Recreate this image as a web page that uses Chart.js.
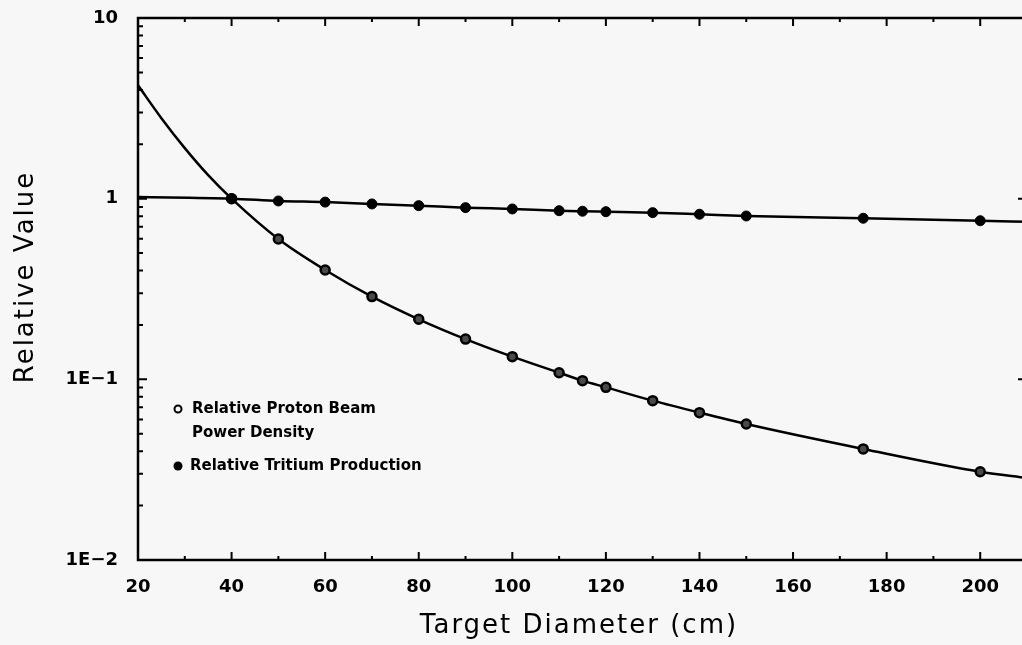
<!DOCTYPE html>
<html>
<head>
<meta charset="utf-8">
<title>Relative Value vs Target Diameter</title>
<script src="https://cdn.jsdelivr.net/npm/chart.js@4.4.1/dist/chart.umd.min.js"></script>
<style>
  html, body { margin: 0; padding: 0; background: #f7f7f7; overflow: hidden; }
  #wrap { position: absolute; left: 0; top: 0; width: 1040px; height: 645px; }
</style>
</head>
<body>
<div id="wrap"><canvas id="chart"></canvas></div>
<script>
// measured points (target diameter in cm)
const diameters = [40, 50, 60, 70, 80, 90, 100, 110, 115, 120, 130, 140, 150, 175, 200];
const tritium = [1.0, 0.971, 0.957, 0.935, 0.915, 0.892, 0.877, 0.858, 0.852, 0.847, 0.837, 0.820, 0.802, 0.779, 0.755];
const powerDensity = [1.0, 0.598, 0.403, 0.287, 0.215, 0.167, 0.1335, 0.1088, 0.0983, 0.0903, 0.0762, 0.0654, 0.0566, 0.0412, 0.0308];

// fitted curves run past the measured points (no markers there)
const tritiumLeadX = [20];
const tritiumLead = [1.02];
const tritiumTailX = [210];
const tritiumTail = [0.745];
const powerLeadX = [20, 25, 30, 35];
const powerLead = [4.24, 2.79, 1.905, 1.35];
const powerTailX = [210];
const powerTail = [0.0284];

const xTicks = [20, 40, 60, 80, 100, 120, 140, 160, 180, 200];
const yTicks = [0.01, 0.1, 1, 10];
const yTickLabels = ['1E\u22122', '1E\u22121', '1', '10'];
const xMin = 20, xMax = 210;

const xTitle = 'Target Diameter (cm)';
const yTitle = 'Relative Value';

const tickFont = { family: '"DejaVu Sans", sans-serif', size: 18, weight: 'bold' };

function buildSeries(leadX, lead, xs, ys, tailX, tail, r) {
  const data = [], radii = [];
  leadX.forEach((x, i) => { data.push({ x, y: lead[i] }); radii.push(0); });
  xs.forEach((x, i) => { data.push({ x, y: ys[i] }); radii.push(r); });
  tailX.forEach((x, i) => { data.push({ x, y: tail[i] }); radii.push(0); });
  return { data, radii };
}

const tri = buildSeries(tritiumLeadX, tritiumLead, diameters, tritium, tritiumTailX, tritiumTail, 5);
const pow = buildSeries(powerLeadX, powerLead, diameters, powerDensity, powerTailX, powerTail, 4.5);

// box frame with inward tick marks, axis titles and the in-plot key
const frameTicks = {
  id: 'frameTicks',
  afterDatasetsDraw(chart) {
    const { ctx, chartArea: a, scales: { x, y } } = chart;
    ctx.save();
    ctx.strokeStyle = '#000';
    ctx.lineWidth = 2.5;
    ctx.strokeRect(a.left, a.top, a.right - a.left, a.bottom - a.top);

    ctx.lineWidth = 2;
    ctx.beginPath();
    for (let v = xMin + 10; v < xMax; v += 10) {
      const px = x.getPixelForValue(v);
      const len = v % 20 === 0 ? 8 : 4;
      ctx.moveTo(px, a.bottom); ctx.lineTo(px, a.bottom - len);
      ctx.moveTo(px, a.top); ctx.lineTo(px, a.top + len);
    }
    for (let d = -2; d <= 0; d++) {
      for (let m = 1; m <= 9; m++) {
        const v = m * Math.pow(10, d);
        const py = y.getPixelForValue(v);
        if (py >= a.bottom - 1) continue;
        const len = m === 1 ? 9 : 5;
        ctx.moveTo(a.left, py); ctx.lineTo(a.left + len, py);
        ctx.moveTo(a.right, py); ctx.lineTo(a.right - len, py);
      }
    }
    ctx.stroke();

    // axis titles
    ctx.fillStyle = '#000';
    ctx.font = '26px "DejaVu Sans", sans-serif';
    ctx.letterSpacing = '2px';
    ctx.textAlign = 'center';
    ctx.textBaseline = 'alphabetic';
    ctx.fillText(xTitle, 579, 633);
    ctx.save();
    ctx.translate(33, 277);
    ctx.rotate(-Math.PI / 2);
    ctx.fillText(yTitle, 0, 0);
    ctx.restore();
    ctx.letterSpacing = '0px';

    // key
    const kx = a.left + 40;
    ctx.font = 'bold 15px "DejaVu Sans", sans-serif';
    ctx.textAlign = 'left';
    ctx.textBaseline = 'middle';
    ctx.lineWidth = 2;
    ctx.beginPath();
    ctx.arc(kx, a.top + 391, 3.5, 0, Math.PI * 2);
    ctx.stroke();
    ctx.fillText('Relative Proton Beam', kx + 14, a.top + 391);
    ctx.fillText('Power Density', kx + 14, a.top + 415);
    ctx.beginPath();
    ctx.arc(kx, a.top + 448, 4.5, 0, Math.PI * 2);
    ctx.fill();
    ctx.fillText('Relative Tritium Production', kx + 12, a.top + 448);
    ctx.restore();
  }
};

new Chart(document.getElementById('chart'), {
  type: 'line',
  data: {
    datasets: [
      {
        label: 'Relative Tritium Production',
        data: tri.data,
        borderColor: '#000',
        borderWidth: 2.5,
        pointRadius: tri.radii,
        pointBackgroundColor: '#000',
        pointBorderColor: '#000',
        pointBorderWidth: 1,
        cubicInterpolationMode: 'monotone',
        fill: false
      },
      {
        label: 'Relative Proton Beam Power Density',
        data: pow.data,
        borderColor: '#000',
        borderWidth: 2.5,
        pointRadius: pow.radii,
        pointBackgroundColor: '#4a4a4a',
        pointBorderColor: '#000',
        pointBorderWidth: 2.5,
        cubicInterpolationMode: 'monotone',
        fill: false
      }
    ]
  },
  options: {
    responsive: true,
    maintainAspectRatio: false,
    animation: false,
    layout: { padding: { left: 0, top: 18, right: 13, bottom: 0 } },
    plugins: {
      legend: { display: false },
      tooltip: { enabled: false }
    },
    scales: {
      x: {
        type: 'linear',
        min: xMin,
        max: xMax,
        afterBuildTicks: s => { s.ticks = xTicks.map(v => ({ value: v })); },
        afterFit: s => { s.height = 85; s.paddingLeft = 0; s.paddingRight = 0; },
        grid: { display: false, drawTicks: false },
        border: { display: false },
        ticks: { color: '#000', font: tickFont, padding: 17, maxRotation: 0 }
      },
      y: {
        type: 'logarithmic',
        min: 0.01,
        max: 10,
        afterBuildTicks: s => { s.ticks = yTicks.map(v => ({ value: v })); },
        afterFit: s => { s.width = 138; s.paddingTop = 0; s.paddingBottom = 0; },
        grid: { display: false, drawTicks: false },
        border: { display: false },
        ticks: {
          color: '#000',
          font: tickFont,
          padding: 20,
          callback: (val) => yTickLabels[yTicks.indexOf(val)]
        }
      }
    }
  },
  plugins: [frameTicks]
});
</script>
</body>
</html>
